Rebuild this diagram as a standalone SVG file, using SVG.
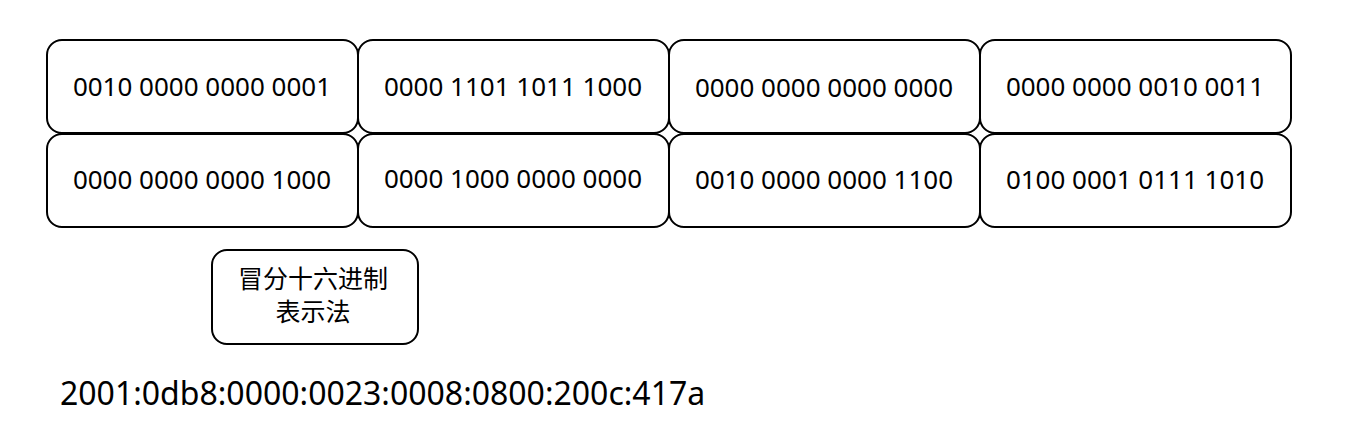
<svg xmlns="http://www.w3.org/2000/svg" width="1353" height="448" viewBox="0 0 1353 448">
<style>
.b{fill:#fff;stroke:#000;stroke-width:2}
.t{font-family:"Noto Sans",sans-serif;font-size:26px;fill:#000;text-anchor:middle}
.c{font-family:"Noto Sans CJK SC",sans-serif;font-size:25px;fill:#000;text-anchor:middle}
.ip{font-family:"Noto Sans",sans-serif;font-size:32px;fill:#000}
</style>
<g id="n1"><rect class="b" x="47" y="40" width="311" height="93" rx="15"/><text class="t" x="202" y="96">0010 0000 0000 0001</text></g>
<g id="n2"><rect class="b" x="358" y="40" width="311" height="93" rx="15"/><text class="t" x="513" y="96">0000 1101 1011 1000</text></g>
<g id="n3"><rect class="b" x="669" y="40" width="311" height="93" rx="15"/><text class="t" x="824" y="97">0000 0000 0000 0000</text></g>
<g id="n4"><rect class="b" x="980" y="40" width="311" height="93" rx="15"/><text class="t" x="1135" y="96">0000 0000 0010 0011</text></g>
<g id="n5"><rect class="b" x="47" y="134" width="311" height="93" rx="15"/><text class="t" x="202" y="189">0000 0000 0000 1000</text></g>
<g id="n6"><rect class="b" x="358" y="134" width="311" height="93" rx="15"/><text class="t" x="513" y="188">0000 1000 0000 0000</text></g>
<g id="n7"><rect class="b" x="669" y="134" width="311" height="93" rx="15"/><text class="t" x="824" y="189">0010 0000 0000 1100</text></g>
<g id="n8"><rect class="b" x="980" y="134" width="311" height="93" rx="15"/><text class="t" x="1135" y="189">0100 0001 0111 1010</text></g>
<g id="n9"><rect class="b" x="212" y="250" width="206" height="94" rx="15"/><text class="c" x="313" y="288">冒分十六进制</text><text class="c" x="313" y="321">表示法</text></g>
<g id="connectors"></g>
<text class="ip" x="60" y="405">2001:0db8:0000:0023:0008:0800:200c:417a</text>
</svg>
